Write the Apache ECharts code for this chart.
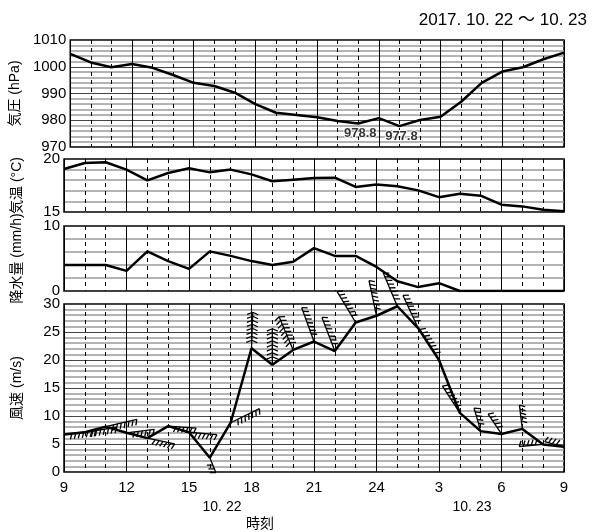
<!DOCTYPE html>
<html>
<head>
<meta charset="utf-8">
<script src="https://cdn.jsdelivr.net/npm/echarts/dist/echarts.min.js"></script>
<style>
  html, body { margin: 0; padding: 0; background: #fff; }
  #chart { width: 606px; height: 532px; }
</style>
</head>
<body>
<div id="chart"></div>
<script>
// hours from 9:00 10.22 to 9:00 10.23, index 0..24
var hours = [9, 10, 11, 12, 13, 14, 15, 16, 17, 18, 19, 20, 21, 22, 23, 24, 1, 2, 3, 4, 5, 6, 7, 8, 9];
var pressure = [1004.8, 1001.6, 999.8, 1001, 999.6, 996.9, 994, 992.8, 990.3, 986, 982.8, 982, 981.1, 979.7, 978.8, 980.8, 977.8, 980.1, 981.3, 986.9, 994, 998.2, 999.8, 1002.8, 1005.3];
var pressureLabelIdx = [14, 16];
var temperature = [19.06, 19.62, 19.69, 19.0, 17.99, 18.68, 19.12, 18.74, 19.0, 18.55, 17.9, 18.05, 18.2, 18.24, 17.36, 17.6, 17.42, 17.04, 16.4, 16.73, 16.54, 15.69, 15.53, 15.22, 15.06];
var rain = [4.0, 4.0, 4.0, 3.1, 6.1, 4.6, 3.4, 6.1, 5.4, 4.6, 4.0, 4.5, 6.6, 5.4, 5.4, 3.7, 1.5, 0.6, 1.2, 0, 0, 0, 0, 0, 0];
var windSpeed = [6.7, 7.1, 8.1, 7.0, 6.05, 8.2, 7.1, 2.55, 8.8, 22.1, 19.15, 21.8, 23.3, 21.6, 26.7, 27.9, 29.6, 25.7, 20.0, 10.55, 7.3, 6.8, 7.7, 4.93, 4.5];
// arrow direction on the page (deg, counter-clockwise from right) and feather count
var windDir = [7, 9, 13, 7, -12, -4, -5, -68, 26, 88, 90, 113, 110, 111, 121, 102, 113, 115, 122, 123, 106, 124, 97, 185, 165];
var windFeathers = [7, 7, 7, 6, 6, 6, 6, 3, 7, 8, 8, 8, 8, 8, 8, 8, 8, 8, 8, 7, 5, 5, 5, 5, 4];
var windBothSides = [9, 10, 11]; // indices drawn with feathers on both sides
var dateLabels = ["10. 22", "10. 23"];

var myChart = echarts.init(document.getElementById("chart"));
var FONT = "Liberation Sans, Arial, Noto Sans CJK JP, sans-serif";

function pairs(arr) {
  return arr.map(function (v, i) { return [i, v]; });
}

var grids = [
  { left: 64, width: 500, top: 40, height: 107 },
  { left: 64, width: 500, top: 159, height: 53 },
  { left: 64, width: 500, top: 226, height: 65 },
  { left: 64, width: 500, top: 304, height: 168 }
];

var xAxes = [];
grids.forEach(function (g, gi) {
  // dashed hourly lines
  xAxes.push({
    type: "value", gridIndex: gi, position: "bottom", min: 0, max: 24, interval: 1,
    axisLine: { show: false }, axisTick: { show: false }, axisLabel: { show: false },
    splitLine: { show: true, lineStyle: { color: "#000", width: 1, type: [4, 4] } }
  });
  // solid 3-hour lines (labels on the bottom panel only)
  xAxes.push({
    type: "value", gridIndex: gi, position: "bottom", min: 0, max: 24, interval: 3,
    axisLine: { show: false }, axisTick: { show: false },
    axisLabel: {
      show: gi === 3, color: "#000", fontSize: 15, fontFamily: FONT, margin: 8,
      formatter: function (v) { return hours[v]; }
    },
    splitLine: { show: true, lineStyle: { color: "#000", width: 1 } }
  });
});

function yAxis(gi, name, min, max, interval, minor) {
  return {
    type: "value", gridIndex: gi, min: min, max: max, interval: interval,
    name: name, nameLocation: "middle", nameRotate: 90, nameGap: 40,
    nameTextStyle: { color: "#000", fontSize: 14, fontFamily: FONT },
    axisLine: { show: false }, axisTick: { show: false },
    axisLabel: {
      color: "#000", fontSize: 15, fontFamily: FONT, margin: 4,
      formatter: function (v) { return String(v); }
    },
    splitLine: { show: true, lineStyle: { color: "#444", width: 1 } },
    minorTick: { show: false, splitNumber: minor },
    minorSplitLine: { show: true, lineStyle: { color: "#9a9a9a", width: 1.5 } }
  };
}

function renderBarb(params, api) {
  var i = params.dataIndex;
  var p = api.coord([api.value(0), api.value(1)]);
  var n = windFeathers[i];
  var step = 4;
  var len = 4 + n * step;
  var a = windDir[i] * Math.PI / 180;
  var dx = Math.cos(a), dy = -Math.sin(a);
  var style = { stroke: "#000", lineWidth: 1.3 };
  var kids = [{
    type: "line",
    shape: { x1: p[0], y1: p[1], x2: p[0] + dx * len, y2: p[1] + dy * len },
    style: style
  }];
  var sides = windBothSides.indexOf(i) >= 0 ? [1, -1] : [1];
  sides.forEach(function (s) {
    var rx = -dy * s, ry = dx * s;
    for (var k = 0; k < n; k++) {
      var t = len - k * step;
      var bx = p[0] + dx * t, by = p[1] + dy * t;
      var tx = rx * 0.92 - dx * 0.38, ty = ry * 0.92 - dy * 0.38;
      kids.push({
        type: "line",
        shape: { x1: bx, y1: by, x2: bx + tx * 6, y2: by + ty * 6 },
        style: style
      });
    }
  });
  return { type: "group", children: kids };
}

var option = {
  backgroundColor: "#fff",
  animation: false,
  title: {
    text: "2017. 10. 22 ～ 10. 23",
    right: 14, top: 7,
    textStyle: { color: "#000", fontSize: 17, fontWeight: "normal", fontFamily: FONT }
  },
  grid: grids.map(function (g) {
    return Object.assign({ show: true, borderColor: "#000", borderWidth: 1.5, backgroundColor: "transparent" }, g);
  }),
  xAxis: xAxes,
  yAxis: [
    yAxis(0, "気圧 (hPa)", 970, 1010, 10, 5),
    yAxis(1, "気温 (°C)", 15, 20, 5, 5),
    yAxis(2, "降水量 (mm/h)", 0, 10, 10, 5),
    yAxis(3, "風速 (m/s)", 0, 30, 5, 5)
  ],
  graphic: [
    { type: "text", x: 222, y: 507, style: { text: dateLabels[0], fill: "#000", fontSize: 14, fontFamily: FONT, align: "center", verticalAlign: "middle" } },
    { type: "text", x: 472, y: 507, style: { text: dateLabels[1], fill: "#000", fontSize: 14, fontFamily: FONT, align: "center", verticalAlign: "middle" } },
    { type: "text", x: 260, y: 524, style: { text: "時刻", fill: "#000", fontSize: 14, fontFamily: FONT, align: "center", verticalAlign: "middle" } }
  ],
  series: [
    {
      type: "line", xAxisIndex: 0, yAxisIndex: 0, symbol: "none",
      lineStyle: { color: "#000", width: 2.5 },
      data: pairs(pressure)
    },
    {
      type: "scatter", xAxisIndex: 0, yAxisIndex: 0, symbolSize: 1, z: 5,
      itemStyle: { color: "transparent" },
      label: {
        show: true, position: "bottom", distance: 3, offset: [2, 0],
        color: "#000", fontSize: 13, fontWeight: "bold", fontFamily: FONT,
        textBorderColor: "#fff", textBorderWidth: 2,
        formatter: function (p) { return p.value[1].toFixed(1); }
      },
      data: pressureLabelIdx.map(function (i) { return [i, pressure[i]]; })
    },
    {
      type: "line", xAxisIndex: 2, yAxisIndex: 1, symbol: "none",
      lineStyle: { color: "#000", width: 2.5 },
      data: pairs(temperature)
    },
    {
      type: "line", xAxisIndex: 4, yAxisIndex: 2, symbol: "none",
      lineStyle: { color: "#000", width: 2.5 },
      data: pairs(rain)
    },
    {
      type: "line", xAxisIndex: 6, yAxisIndex: 3, symbol: "none",
      lineStyle: { color: "#000", width: 2.5 },
      data: pairs(windSpeed)
    },
    {
      type: "custom", xAxisIndex: 6, yAxisIndex: 3, clip: false, z: 3,
      renderItem: renderBarb,
      data: pairs(windSpeed)
    }
  ]
};
myChart.setOption(option);
</script>
</body>
</html>
